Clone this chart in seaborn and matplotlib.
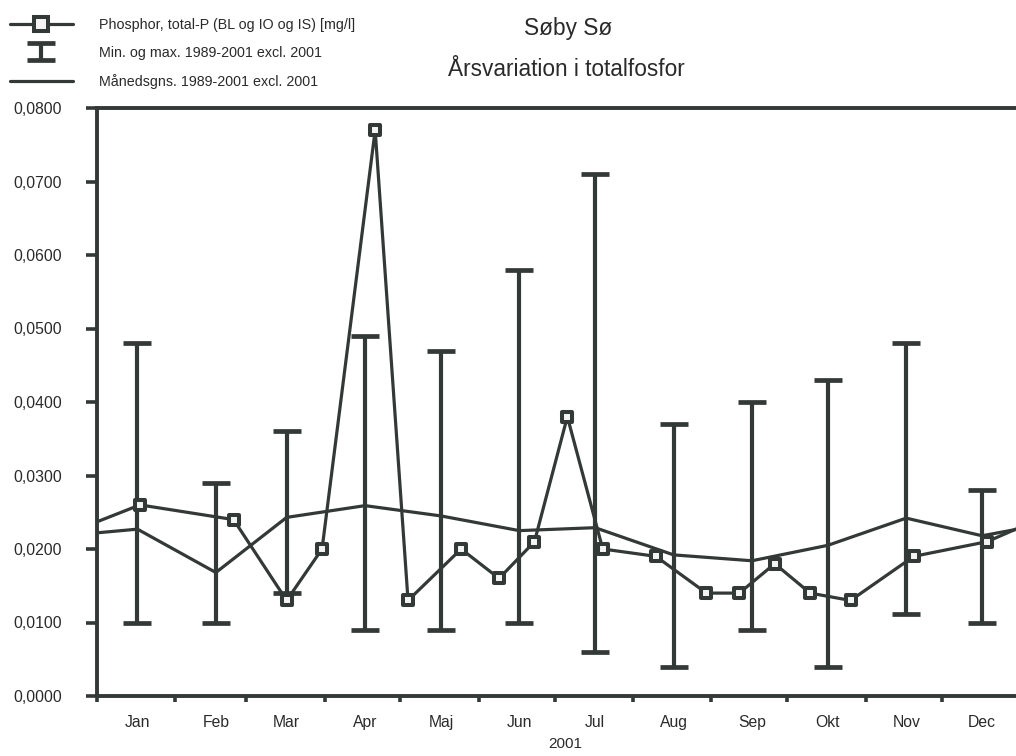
import numpy as np
import pandas as pd
import matplotlib
matplotlib.use("Agg")
import matplotlib.pyplot as plt
import matplotlib.dates as mdates
from matplotlib.lines import Line2D
from matplotlib.container import ErrorbarContainer
from matplotlib.legend_handler import HandlerErrorbar
from matplotlib.ticker import FixedLocator, FuncFormatter
import seaborn as sns

# ---------------- data ----------------
month_labels = ["Jan", "Feb", "Mar", "Apr", "Maj", "Jun", "Jul", "Aug", "Sep", "Okt", "Nov", "Dec"]
month_mid_dates = pd.to_datetime([f"2001-{m:02d}-17" for m in range(1, 13)])

min_vals = [0.010, 0.010, 0.014, 0.009, 0.009, 0.010, 0.006, 0.004, 0.009, 0.004, 0.0112, 0.010]
max_vals = [0.048, 0.029, 0.036, 0.049, 0.047, 0.058, 0.071, 0.037, 0.040, 0.043, 0.048, 0.028]
mean_vals = [0.0227, 0.0168, 0.0243, 0.0259, 0.0245, 0.0225, 0.0229, 0.0192, 0.0184, 0.0205, 0.0242, 0.0218]

sample_dates = pd.to_datetime([
    "2001-01-18", "2001-02-24", "2001-03-17", "2001-03-31", "2001-04-21",
    "2001-05-04", "2001-05-25", "2001-06-09", "2001-06-23", "2001-07-06",
    "2001-07-20", "2001-08-10", "2001-08-30", "2001-09-12", "2001-09-26",
    "2001-10-10", "2001-10-26", "2001-11-20", "2001-12-19"])
sample_vals = [0.026, 0.024, 0.013, 0.020, 0.077, 0.013, 0.020, 0.016, 0.021, 0.038,
               0.020, 0.019, 0.014, 0.014, 0.018, 0.014, 0.013, 0.019, 0.021]

edge_dates = pd.to_datetime(["2001-01-01", "2001-12-31"])
edge_sample_vals = [0.0237, 0.0228]
edge_mean_vals = [0.0222, 0.0227]

y_ticks = [0.0, 0.01, 0.02, 0.03, 0.04, 0.05, 0.06, 0.07, 0.08]

legend_labels = ["Phosphor, total-P (BL og IO og IS) [mg/l]",
                 "Min. og max. 1989-2001 excl. 2001",
                 "Månedsgns. 1989-2001 excl. 2001"]

# ---------------- style ----------------
sns.set_theme(style="white")
plt.rcParams["font.family"] = ["Liberation Sans", "DejaVu Sans"]
C = "#333936"
TXT = "#2a2a2a"

fig = plt.figure(figsize=(10.16, 7.56), dpi=100)
ax = fig.add_axes([97 / 1016, 60 / 756, 923 / 1016, 588 / 756])

# error bars (min / max)
lo = np.array(min_vals)
hi = np.array(max_vals)
center = (lo + hi) / 2
eb = ax.errorbar(month_mid_dates, center, yerr=[center - lo, hi - center], fmt="none",
                 ecolor=C, elinewidth=3.0, capsize=10, capthick=3.4, zorder=3)

# mean line
df_mean = pd.DataFrame({
    "date": list(edge_dates[:1]) + list(month_mid_dates) + list(edge_dates[1:]),
    "val": [edge_mean_vals[0]] + mean_vals + [edge_mean_vals[1]],
})
sns.lineplot(data=df_mean, x="date", y="val", ax=ax, color=C, linewidth=2.3, zorder=4)

# 2001 series
df_s = pd.DataFrame({
    "date": list(edge_dates[:1]) + list(sample_dates) + list(edge_dates[1:]),
    "val": [edge_sample_vals[0]] + sample_vals + [edge_sample_vals[1]],
})
sns.lineplot(data=df_s, x="date", y="val", ax=ax, color=C, linewidth=2.3, zorder=5)
df_pts = pd.DataFrame({"date": sample_dates, "val": sample_vals})
sns.scatterplot(data=df_pts, x="date", y="val", ax=ax, marker="s", s=58,
                facecolor="#f4f4f4", edgecolor=C, linewidth=2.9, zorder=6)

# axes
ax.set_xlim(pd.Timestamp("2001-01-01"), pd.Timestamp("2002-01-01"))
ax.set_ylim(0, 0.08)
ax.yaxis.set_major_locator(FixedLocator(y_ticks))
ax.yaxis.set_major_formatter(FuncFormatter(lambda v, p: f"{v:.4f}".replace(".", ",")))
ax.xaxis.set_major_locator(mdates.MonthLocator())
ax.xaxis.set_major_formatter(FuncFormatter(lambda v, p: ""))
ax.xaxis.set_minor_locator(mdates.MonthLocator(bymonthday=17))
ax.xaxis.set_minor_formatter(FuncFormatter(lambda v, p: month_labels[mdates.num2date(v).month - 1]))

ax.tick_params(axis="x", which="major", length=4, width=2.6, color=C, direction="out", bottom=True)
ax.tick_params(axis="x", which="minor", length=0, pad=14, labelsize=11.3, labelcolor=TXT, bottom=True)
ax.tick_params(axis="y", which="major", length=8, width=2.6, color=C, direction="out", left=True,
               pad=17, labelsize=11.3, labelcolor=TXT)

for side in ["left", "bottom", "top"]:
    ax.spines[side].set_visible(True)
    ax.spines[side].set_color(C)
    ax.spines[side].set_linewidth(2.8)
ax.spines["right"].set_visible(False)
ax.set_ylabel("")
ax.set_xlabel("2001", fontsize=11, color=TXT)
ax.xaxis.set_label_coords((565 - 97) / 923, -0.07)
ax.grid(False)
ax.set_facecolor("white")

# titles
fig.text(568 / 1016, 1 - 29 / 756, "Søby Sø", ha="center", va="center", fontsize=16.3, color=TXT)
fig.text(566 / 1016, 1 - 70 / 756, "Årsvariation i totalfosfor", ha="center", va="center",
         fontsize=16.3, color=TXT)

# legend
h1 = Line2D([], [], color=C, lw=2.3, marker="s", markersize=10, mfc="#f4f4f4", mec=C, mew=2.9)
h3 = Line2D([], [], color=C, lw=2.3)
fig.legend([h1, eb, h3], legend_labels, loc="upper left", bbox_to_anchor=(0.0, 0.99),
           frameon=False, fontsize=10.3, handlelength=4.4, handletextpad=1.85,
           labelspacing=1.0, borderpad=0.2, labelcolor=TXT,
           handler_map={ErrorbarContainer: HandlerErrorbar(yerr_size=0.6)})

fig.savefig("out.png", dpi=100, facecolor="white")
